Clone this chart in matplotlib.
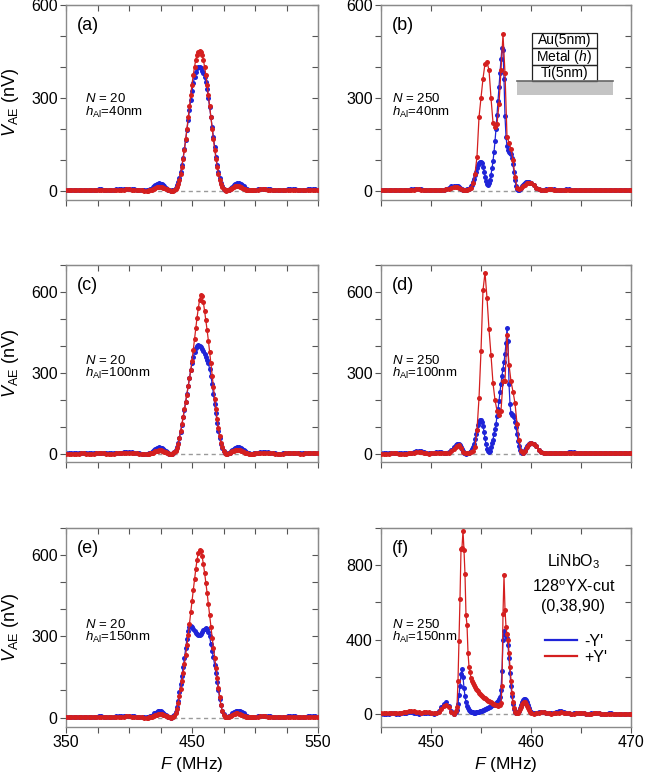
import numpy as np
import matplotlib
matplotlib.use("Agg")
import matplotlib.pyplot as plt
from matplotlib.ticker import MultipleLocator, FixedLocator
from matplotlib.patches import Rectangle
from matplotlib.lines import Line2D

plt.rcParams['font.family'] = ['Liberation Sans', 'DejaVu Sans']
plt.rcParams['mathtext.fontset'] = 'custom'
plt.rcParams['mathtext.rm'] = 'Liberation Sans'
plt.rcParams['mathtext.it'] = 'Liberation Sans:italic'
plt.rcParams['mathtext.bf'] = 'Liberation Sans:bold'

# ---------------- frequency grids ----------------
FREQ_L_LO = np.arange(350, 415, 2)      # 33
FREQ_L_MID = np.arange(415, 500, 1)     # 85
FREQ_L_HI = np.arange(500, 551, 2)      # 26

FREQ_R_LO = np.linspace(445.0, 452.5, 31)
FREQ_R_FINE = np.linspace(452.6, 459.9, 74)
FREQ_R_COARSE = np.linspace(452.6, 459.8, 37)
FREQ_R_HI = np.linspace(460.0, 470.0, 41)

LEFT_XTICKS = [350, 450, 550]
RIGHT_XTICKS = [450, 460, 470]

# ---------------- left column (N = 20) ----------------
A_BLUE_LO = [2,2,2,2,3,3,3,2,2,2, 2,3,3,4,4,3,2,2,2,3, 4,5,6,6,7,7,6,5,3,2, 1,1,1]
A_RED_LO = [1,1,1,1,1,2,2,1,1,1, 1,1,2,2,2,2,1,1,1,1, 2,2,3,3,4,4,3,3,2,1, 1,0,0]
A_BLUE_MID = [1, 2, 4, 7, 11, 15, 18, 21, 23, 24,
              23, 21, 18, 14, 10, 6, 3, 1, 0, 1,
              1, 3, 8, 17, 28, 42, 60, 82, 107, 135,
              165, 197, 230, 262, 293, 322, 347, 368, 384, 395,
              400, 400, 396, 388, 380, 368, 350, 328, 300, 270,
              238, 205, 172, 140, 110, 83, 60, 41, 26, 15,
              7, 3, 1, 1, 2, 5, 9, 13, 17, 21,
              23, 24, 24, 23, 21, 18, 14, 10, 7, 4,
              2, 1, 1, 1, 2]
A_RED_MID = [0, 1, 2, 3, 5, 7, 9, 11, 12, 13,
             13, 12, 10, 8, 6, 4, 2, 1, 0, 0,
             0, 1, 5, 12, 22, 36, 55, 77, 104, 133,
             166, 201, 237, 273, 309, 343, 374, 400, 423, 439,
             449, 452, 449, 439, 423, 400, 374, 343, 309, 273,
             237, 201, 166, 133, 104, 77, 55, 36, 22, 12,
             5, 1, 0, 1, 2, 4, 7, 10, 12, 14,
             15, 15, 14, 13, 11, 9, 7, 5, 3, 2,
             1, 1, 1, 1, 1]
A_BLUE_HI = [3,5,6,7,7,6,5,3,2,1, 1,2,3,4,5,5,4,3,2,2, 3,4,5,5,4,3]
A_RED_HI = [2,3,4,4,4,3,3,2,1,1, 1,1,2,2,3,3,2,2,1,1, 2,2,3,3,2,2]

C_BLUE_LO = [2,2,2,2,2,3,3,3,2,2, 2,2,3,3,4,4,3,2,2,3, 4,5,5,6,7,7,6,5,3,2, 1,1,1]
C_RED_LO = [1,1,1,1,1,1,2,2,1,1, 1,1,2,2,2,2,1,1,1,1, 2,2,3,3,4,4,3,3,2,1, 1,0,0]
C_BLUE_MID = [1, 2, 4, 7, 11, 15, 18, 21, 23, 24,
              23, 21, 18, 14, 10, 6, 3, 1, 0, 1,
              3, 7, 14, 25, 40, 60, 83, 108, 135, 163,
              192, 222, 252, 282, 310, 335, 358, 378, 392, 400,
              402, 400, 396, 390, 382, 372, 360, 348, 335, 315,
              290, 258, 222, 185, 150, 115, 85, 58, 38, 22,
              11, 5, 2, 1, 2, 5, 9, 13, 17, 21,
              23, 24, 24, 23, 21, 18, 14, 10, 7, 4,
              2, 1, 1, 1, 2]
C_RED_MID = [0, 1, 2, 3, 5, 7, 9, 11, 12, 13,
             13, 12, 10, 8, 6, 4, 2, 1, 0, 0,
             2, 6, 12, 22, 38, 60, 85, 110, 138, 165,
             192, 220, 250, 280, 310, 345, 385, 425, 465, 505,
             540, 570, 588, 585, 562, 530, 495, 458, 420, 378,
             335, 290, 248, 205, 165, 128, 95, 66, 42, 24,
             11, 4, 1, 1, 2, 4, 7, 10, 12, 14,
             15, 15, 14, 13, 11, 9, 7, 5, 3, 2,
             1, 1, 1, 1, 1]
C_BLUE_HI = [3,5,6,7,7,6,5,3,2,1, 1,2,3,4,5,5,4,3,2,2, 3,4,5,5,4,3]
C_RED_HI = [2,3,4,4,4,3,3,2,1,1, 1,1,2,2,3,3,2,2,1,1, 2,2,3,3,2,2]

E_BLUE_LO = [2,2,2,2,3,3,3,2,2,2, 2,3,3,4,4,3,2,2,2,3, 4,5,6,6,7,7,6,5,3,2, 1,1,1]
E_RED_LO = [1,1,1,1,1,2,2,1,1,1, 1,1,2,2,2,2,1,1,1,1, 2,2,3,3,4,4,3,3,2,1, 1,0,0]
E_BLUE_MID = [1, 2, 4, 7, 11, 15, 18, 21, 23, 24,
              23, 21, 18, 14, 10, 6, 3, 1, 0, 2,
              4, 8, 20, 38, 62, 95, 125, 155, 185, 220,
              255, 290, 318, 335, 338, 335, 328, 320, 313, 308,
              305, 305, 308, 315, 322, 328, 330, 328, 315, 300,
              270, 245, 222, 195, 165, 132, 100, 70, 45, 25,
              12, 4, 1, 2, 4, 7, 11, 15, 19, 22,
              24, 25, 25, 24, 22, 19, 15, 11, 7, 4,
              2, 1, 1, 1, 2]
E_RED_MID = [0, 1, 2, 3, 5, 7, 9, 11, 12, 13,
             13, 12, 10, 8, 6, 4, 2, 1, 0, 1,
             2, 5, 15, 30, 52, 80, 105, 135, 165, 198,
             232, 268, 305, 345, 388, 430, 470, 510, 548, 582,
             608, 620, 616, 596, 568, 535, 498, 460, 420, 378,
             335, 295, 258, 220, 182, 145, 108, 75, 46, 24,
             10, 3, 1, 1, 2, 4, 7, 10, 12, 14,
             15, 15, 14, 13, 11, 9, 7, 5, 3, 2,
             1, 1, 1, 1, 1]
E_BLUE_HI = [3,5,6,7,7,6,5,3,2,1, 1,2,3,4,5,5,4,3,2,2, 3,4,5,5,4,3]
E_RED_HI = [2,3,4,4,4,3,3,2,1,1, 1,1,2,2,3,3,2,2,1,1, 2,2,3,3,2,2]

# ---------------- right column (N = 250) ----------------
B_BLUE_LO = [2,2,2,2,2,3,3,2,2,2, 2,3,4,5,6,6,5,3,2,1, 2,3,3,2,2,3,6,10,14,16,15]
B_RED_LO = [2,2,2,2,2,2,2,2,2,2, 2,2,3,3,4,4,3,2,2,1, 1,2,2,2,2,2,4,7,10,12,12]
B_BLUE_FINE = [15, 14, 12, 9, 6, 4, 3, 2, 2, 3,
               4, 5, 7, 10, 14, 20, 28, 38, 50, 62,
               73, 82, 88, 92, 92, 88, 78, 62, 45, 30,
               22, 20, 24, 35, 52, 72, 95, 125, 160, 200,
               245, 290, 335, 380, 425, 462, 455, 360, 240, 175,
               145, 132, 126, 123, 118, 105, 85, 60, 35, 15,
               5, 2, 3, 6, 10, 14, 18, 22, 25, 27,
               28, 28, 27, 25]
B_RED_COARSE = [12, 9, 5, 3, 2, 3, 5, 10, 25, 55,
                110, 237, 300, 362, 411, 416, 390, 300, 220, 205,
                215, 280, 390, 505, 380, 175, 155, 135, 100, 45,
                10, 4, 8, 14, 20, 24, 26]
B_BLUE_HI = [24,18,10,4,2,3,5,6,6,5, 3,2,2,3,4,4,3,2,2,2, 3,3,3,2,2,2,3,3,2,2, 2,2,3,3,2,2,2,2,2,2,2]
B_RED_HI = [24,18,10,4,2,2,3,4,4,3, 2,2,2,2,3,3,2,2,2,2, 2,2,2,2,2,2,2,2,2,2, 2,2,2,2,2,2,2,2,2,2,2]

D_BLUE_LO = [2,2,2,2,2,2,3,3,2,2, 2,3,5,8,11,12,10,6,3,2, 3,5,7,8,7,5,4,7,14,24,32]
D_RED_LO = [1,1,1,1,2,2,2,1,1,1, 1,2,3,5,7,8,6,4,2,1, 2,3,4,5,4,3,2,5,10,18,26]
D_BLUE_FINE = [35, 37, 36, 32, 25, 17, 10, 5, 2, 1,
               2, 3, 5, 8, 12, 18, 26, 38, 54, 72,
               90, 106, 118, 124, 125, 120, 105, 82, 58, 36,
               20, 10, 8, 12, 25, 40, 52, 75, 92, 110,
               140, 165, 195, 230, 260, 290, 315, 340, 370, 410,
               465, 420, 260, 185, 150, 145, 144, 135, 120, 98,
               72, 48, 28, 14, 6, 3, 4, 8, 14, 21,
               28, 34, 38, 40]
D_RED_COARSE = [30, 33, 22, 8, 2, 2, 4, 8, 12, 25,
                90, 206, 381, 606, 672, 578, 462, 366, 262, 200,
                160, 144, 160, 269, 272, 440, 331, 269, 231, 188,
                112, 50, 12, 5, 12, 25, 35]
D_BLUE_HI = [40,37,28,16,6,2,2,3,4,4, 3,2,2,3,5,7,8,7,5,3, 2,2,2,3,3,3,2,2,2,2, 2,3,3,2,2,2,2,2,2,2,2]
D_RED_HI = [40,37,28,16,6,2,2,2,3,3, 2,2,2,2,3,4,5,4,3,2, 2,2,2,2,2,2,2,2,2,2, 2,2,2,2,2,2,2,2,2,2,2]

PF_BLUE_LO = [0,0,1,2,3,3,2,2,3,5, 7,8,8,6,3,2,3,5,6,5, 3,2,5,15,35,55,62,45,15,2,8]
PF_RED_LO = [3,3,4,5,6,6,5,4,5,8, 12,16,18,17,13,9,7,8,9,8, 6,4,4,10,25,42,50,38,12,2,15]
PF_BLUE_FINE = [20, 55, 100, 150, 215, 240, 200, 140, 95, 65,
                45, 32, 24, 18, 13, 10, 8, 7, 7, 8,
                9, 10, 12, 14, 16, 18, 20, 22, 25, 28,
                31, 34, 37, 40, 43, 46, 49, 52, 55, 59,
                64, 70, 78, 90, 130, 230, 400, 445, 425, 430,
                410, 370, 300, 220, 150, 95, 55, 28, 12, 5,
                4, 8, 18, 32, 48, 62, 74, 80, 80, 74,
                62, 46, 30, 17]
PF_RED_FINE = [40, 180, 390, 620, 885, 895, 985, 880, 750, 530,
               480, 330, 255, 225, 195, 180, 166, 155, 145, 136,
               128, 121, 114, 108, 103, 98, 93, 88, 84, 80,
               76, 72, 68, 65, 62, 59, 56, 53, 50, 48,
               46, 45, 46, 50, 60, 150, 540, 745, 560, 470,
               430, 400, 330, 250, 180, 115, 65, 30, 12, 4,
               3, 6, 14, 26, 40, 52, 60, 64, 62, 55,
               44, 32, 20, 10]
PF_BLUE_HI = [8,3,4,8,11,10,6,3,3,6, 11,15,15,11,6,3,2,3,5,6, 5,3,2,2,3,4,4,3,2,2, 2,3,3,2,2,2,2,2,2,2,2]
PF_RED_HI = [4,2,3,6,8,8,5,3,2,3, 5,7,8,7,5,3,2,2,3,4, 4,3,2,2,2,3,3,3,2,2, 2,2,2,2,2,2,2,2,2,2,2]

PANEL_LABELS = ['(a)', '(b)', '(c)', '(d)', '(e)', '(f)']
N_LABELS = ['20', '250', '20', '250', '20', '250']
H_LABELS = ['40nm', '40nm', '100nm', '100nm', '150nm', '150nm']
LEGEND_LABELS = ["-Y'", "+Y'"]
STACK_LABELS = ['Au(5nm)', 'Metal ($h$)', 'Ti(5nm)']

BLUE = '#1f24d8'
RED = '#d41f1f'
SPINE = '#8a8a8a'
TICKC = '#555555'

W, H = 646, 773
fig = plt.figure(figsize=(W / 100, H / 100), dpi=100)

def frac_axes(x0, x1, ytop, ybot):
    return fig.add_axes([x0 / W, 1 - ybot / H, (x1 - x0) / W, (ybot - ytop) / H])

cols = [(66, 318), (381, 631)]
rows = [(5, 200), (265, 462), (528, 727)]

axes = []
for r in range(3):
    for c in range(2):
        axes.append(frac_axes(cols[c][0], cols[c][1], rows[r][0], rows[r][1]))

def concat(*parts):
    return np.concatenate([np.asarray(p, dtype=float) for p in parts])

xl = concat(FREQ_L_LO, FREQ_L_MID, FREQ_L_HI)
left_data = [
    (xl, concat(A_BLUE_LO, A_BLUE_MID, A_BLUE_HI), xl, concat(A_RED_LO, A_RED_MID, A_RED_HI)),
    (xl, concat(C_BLUE_LO, C_BLUE_MID, C_BLUE_HI), xl, concat(C_RED_LO, C_RED_MID, C_RED_HI)),
    (xl, concat(E_BLUE_LO, E_BLUE_MID, E_BLUE_HI), xl, concat(E_RED_LO, E_RED_MID, E_RED_HI)),
]
xr_f = concat(FREQ_R_LO, FREQ_R_FINE, FREQ_R_HI)
xr_c = concat(FREQ_R_LO, FREQ_R_COARSE, FREQ_R_HI)
right_data = [
    (xr_f, concat(B_BLUE_LO, B_BLUE_FINE, B_BLUE_HI), xr_c, concat(B_RED_LO, B_RED_COARSE, B_RED_HI)),
    (xr_f, concat(D_BLUE_LO, D_BLUE_FINE, D_BLUE_HI), xr_c, concat(D_RED_LO, D_RED_COARSE, D_RED_HI)),
    (xr_f, concat(PF_BLUE_LO, PF_BLUE_FINE, PF_BLUE_HI), xr_f, concat(PF_RED_LO, PF_RED_FINE, PF_RED_HI)),
]

ylims = [(-30, 600), (-30, 600), (-30, 700), (-30, 700), (-35, 700), (-70, 1000)]
ymaj = [300, 300, 300, 300, 300, 400]
ymin = [100, 100, 100, 100, 100, 200]

for i, ax in enumerate(axes):
    r, c = divmod(i, 2)
    xb, yb, xr, yr = (left_data if c == 0 else right_data)[r]
    ax.axhline(0, color='#9a9a9a', lw=1.0, ls=(0, (3, 2.5)), zorder=1)
    ax.plot(xb, yb, '-o', color=BLUE, lw=0.9, ms=3.6, mew=0, zorder=2)
    ax.plot(xr, yr, '-o', color=RED, lw=0.9, ms=3.6, mew=0, zorder=3)
    if c == 0:
        ax.set_xlim(350, 550)
        xticks, xmin = LEFT_XTICKS, 25
    else:
        ax.set_xlim(445, 470)
        xticks, xmin = RIGHT_XTICKS, 5
    ax.set_ylim(*ylims[i])
    ax.xaxis.set_major_locator(FixedLocator(xticks))
    ax.xaxis.set_minor_locator(MultipleLocator(xmin))
    ax.yaxis.set_major_locator(MultipleLocator(ymaj[i]))
    ax.yaxis.set_minor_locator(MultipleLocator(ymin[i]))
    ax.tick_params(which='both', direction='out', top=False, right=False,
                   color=TICKC, labelsize=11.5, pad=2)
    ax.tick_params(which='major', length=4, width=0.8)
    ax.tick_params(which='minor', length=4, width=0.8)
    for s in ax.spines.values():
        s.set_color(SPINE)
        s.set_linewidth(1.0)
    sx = ax.secondary_xaxis('top')
    sx.xaxis.set_major_locator(FixedLocator(xticks))
    sx.xaxis.set_minor_locator(MultipleLocator(xmin))
    sx.tick_params(which='both', direction='in', length=4, width=0.8, color=TICKC,
                   labeltop=False, labelbottom=False)
    sx.spines['top'].set_color(SPINE)
    sy = ax.secondary_yaxis('right')
    sy.yaxis.set_major_locator(MultipleLocator(ymaj[i]))
    sy.yaxis.set_minor_locator(MultipleLocator(ymin[i]))
    sy.tick_params(which='both', direction='in', length=4, width=0.8, color=TICKC,
                   labelright=False, labelleft=False)
    sy.spines['right'].set_color(SPINE)
    if r < 2:
        ax.tick_params(labelbottom=False)
    else:
        ax.set_xlabel('$F$ (MHz)', fontsize=12.5, labelpad=3)
    if c == 0:
        ax.set_ylabel(r'$V_{\rm AE}$ (nV)', fontsize=13)
        ax.yaxis.set_label_coords(-0.178, 0.5)

    ax.text(0.045, 0.895, PANEL_LABELS[i], transform=ax.transAxes, fontsize=13,
            ha='left', va='center')
    nx = 0.075 if c == 0 else 0.045
    ax.text(nx, 0.50, '$N$ = ' + N_LABELS[i], transform=ax.transAxes,
            fontsize=9.5, ha='left', va='baseline')
    ax.text(nx, 0.432, r'$h_{\rm Al}$=' + H_LABELS[i], transform=ax.transAxes,
            fontsize=9.5, ha='left', va='baseline')

# inset layer stack in (b)
axb = axes[1]
edges = [0.858, 0.778, 0.692, 0.610]
for k, lab in enumerate(STACK_LABELS):
    axb.add_patch(Rectangle((0.605, edges[k + 1]), 0.257, edges[k] - edges[k + 1],
                            transform=axb.transAxes, fill=False, ec='#222222', lw=0.9, zorder=5))
    axb.text(0.7335, (edges[k] + edges[k + 1]) / 2, lab, transform=axb.transAxes,
             ha='center', va='center', fontsize=10, zorder=6)
axb.add_patch(Rectangle((0.545, 0.538), 0.384, 0.072, transform=axb.transAxes,
                        fc='#c4c4c4', ec='none', zorder=4))
axb.plot([0.545, 0.929], [0.610, 0.610], transform=axb.transAxes, color='#666666', lw=1.2, zorder=5)

# texts and legend in (f)
axf = axes[5]
axf.text(0.77, 0.81, r'LiNbO$_3$', transform=axf.transAxes, ha='center', va='baseline', fontsize=11.5)
axf.text(0.77, 0.68, r'128$^{\rm o}$YX-cut', transform=axf.transAxes, ha='center', va='baseline', fontsize=11.5)
axf.text(0.77, 0.582, '(0,38,90)', transform=axf.transAxes, ha='center', va='baseline', fontsize=11.5)
handles = [Line2D([], [], color=BLUE, lw=1.6), Line2D([], [], color=RED, lw=1.6)]
axf.legend(handles, LEGEND_LABELS, loc='center left', bbox_to_anchor=(0.655, 0.39),
           frameon=False, fontsize=11.5, handlelength=2.0, handletextpad=0.5,
           labelspacing=0.05, borderpad=0, borderaxespad=0)

fig.savefig('out.png', dpi=100, facecolor='white')
